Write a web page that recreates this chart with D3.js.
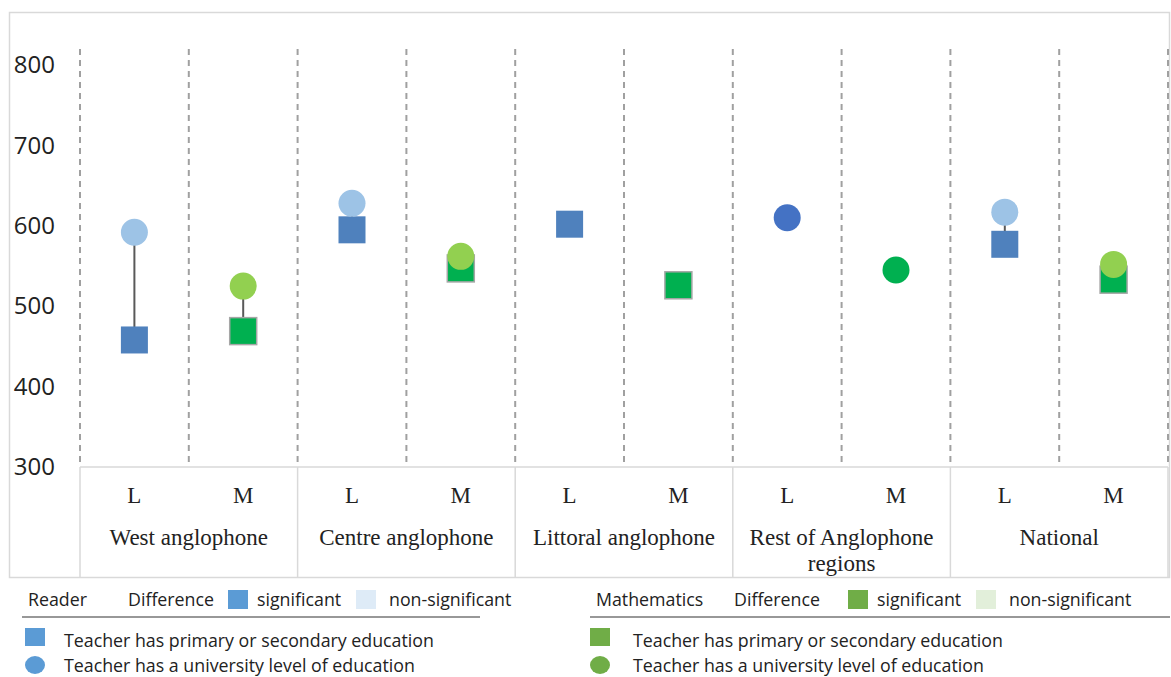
<!DOCTYPE html>
<html>
<head>
<meta charset="utf-8">
<script src="https://cdn.jsdelivr.net/npm/d3@7"></script>
<style>
  body { margin: 0; background: #fff; }
  svg { display: block; }
  .sans { font-family: "Open Sans", sans-serif; }
  .serif { font-family: "Liberation Serif", "Times New Roman", serif; }
</style>
</head>
<body>
<svg width="1171" height="677"></svg>
<script>
// regions and subjects
const regions = ["West anglophone", "Centre anglophone", "Littoral anglophone", "Rest of Anglophone regions", "National"];
const subjects = ["L", "M"];
const yTicks = [300, 400, 500, 600, 700, 800];

// scores per region (L then M); null = not shown
const primaryL = [458, 595, 602, null, 577];
const universityL = [592, 628, null, 610, 617];
const primaryM = [469, 547, 526, null, 533];
const universityM = [525, 562, null, 545, 552];
// circle colour when shown alone
const loneCircleL = "#4472C4";
const loneCircleM = "#00B050";

const svg = d3.select("svg");
const width = +svg.attr("width");
const height = +svg.attr("height");

const plot = { left: 80, right: 1168, top: 49, bottom: 467 };
const tableBottom = 577;

// outer frame
svg.append("rect")
  .attr("x", 9.5).attr("y", 12.5)
  .attr("width", 1160).attr("height", tableBottom - 12)
  .attr("fill", "none")
  .attr("stroke", "#d9d9d9").attr("stroke-width", 1.5);

const x0 = d3.scaleBand().domain(regions).range([plot.left, plot.right]);
const x1 = d3.scaleBand().domain(subjects).range([0, x0.bandwidth()]);
const y = d3.scaleLinear().domain([300, 800]).range([467, 65]);

// y axis labels
const yAxis = d3.axisLeft(y).tickValues(yTicks).tickSize(0).tickPadding(0);
const yAxisG = svg.append("g")
  .attr("transform", "translate(55,0)")
  .call(yAxis);
yAxisG.select(".domain").remove();
yAxisG.selectAll("text")
  .attr("class", "sans")
  .style("font-size", "24px")
  .attr("fill", "#222");

// dashed verticals
const dashX = [];
regions.forEach(r => {
  dashX.push(x0(r));
  dashX.push(x0(r) + x1.bandwidth());
});
dashX.push(plot.right);
svg.append("g").selectAll("line")
  .data(dashX)
  .join("line")
    .attr("x1", d => d).attr("x2", d => d)
    .attr("y1", plot.top).attr("y2", plot.bottom)
    .attr("stroke", "#a0a0a0")
    .attr("stroke-width", 2)
    .attr("stroke-dasharray", "6,5");

// category table
const table = svg.append("g");
table.append("line")
  .attr("x1", plot.left).attr("x2", plot.right)
  .attr("y1", plot.bottom).attr("y2", plot.bottom)
  .attr("stroke", "#d9d9d9").attr("stroke-width", 1.5);
table.selectAll(".vline")
  .data(regions.map(r => x0(r)).concat([plot.right]))
  .join("line")
    .attr("class", "vline")
    .attr("x1", d => d).attr("x2", d => d)
    .attr("y1", plot.bottom).attr("y2", tableBottom)
    .attr("stroke", "#d9d9d9").attr("stroke-width", 1.5);

regions.forEach(r => {
  subjects.forEach(s => {
    table.append("text")
      .attr("class", "serif")
      .attr("x", x0(r) + x1(s) + x1.bandwidth() / 2)
      .attr("y", 503)
      .attr("text-anchor", "middle")
      .style("font-size", "23px")
      .attr("fill", "#222")
      .text(s);
  });
  const lines = r === "Rest of Anglophone regions" ? ["Rest of Anglophone", "regions"] : [r];
  lines.forEach((t, i) => {
    table.append("text")
      .attr("class", "serif")
      .attr("x", x0(r) + x0.bandwidth() / 2)
      .attr("y", 545 + i * 26)
      .attr("text-anchor", "middle")
      .style("font-size", "23px")
      .attr("fill", "#222")
      .text(t);
  });
});

// marks
const rows = regions.map((r, i) => ({
  region: r,
  L: { sq: primaryL[i], ci: universityL[i] },
  M: { sq: primaryM[i], ci: universityM[i] }
}));

const sq = 27, rad = 13.5;
const marks = svg.append("g");
rows.forEach(d => {
  subjects.forEach(s => {
    const v = d[s];
    const cx = x0(d.region) + x1(s) + x1.bandwidth() / 2;
    if (v.sq != null && v.ci != null) {
      marks.append("line")
        .attr("x1", cx).attr("x2", cx)
        .attr("y1", y(v.ci)).attr("y2", y(v.sq))
        .attr("stroke", "#595959").attr("stroke-width", 2);
    }
    if (v.sq != null) {
      marks.append("rect")
        .attr("x", cx - sq / 2).attr("y", y(v.sq) - sq / 2)
        .attr("width", sq).attr("height", sq)
        .attr("fill", s === "L" ? "#4f81bd" : "#00b050")
        .attr("stroke", s === "L" ? "none" : "#a6a6a6")
        .attr("stroke-width", 1.5);
    }
    if (v.ci != null) {
      const alone = v.sq == null;
      marks.append("circle")
        .attr("cx", cx).attr("cy", y(v.ci))
        .attr("r", rad)
        .attr("fill", alone ? (s === "L" ? loneCircleL : loneCircleM) : (s === "L" ? "#9dc3e6" : "#92d050"));
    }
  });
});

// legends
const legends = [
  { x: 22, right: 480, title: "Reader", diffX: 128, sig: "#5b9bd5", non: "#deebf7", swX: 228, mark: "#5b9bd5", markX: 25, textX: 64 },
  { x: 590, right: 1170, title: "Mathematics", diffX: 734, sig: "#70ad47", non: "#e2efda", swX: 848, mark: "#70ad47", markX: 590, textX: 633 }
];
legends.forEach(l => {
  const g = svg.append("g").attr("class", "sans").style("font-size", "17.8px").attr("fill", "#222");
  g.append("text").attr("x", l.x + 6).attr("y", 606).text(l.title);
  g.append("text").attr("x", l.diffX).attr("y", 606).text("Difference");
  g.append("rect").attr("x", l.swX).attr("y", 590).attr("width", 20).attr("height", 19).attr("fill", l.sig);
  g.append("text").attr("x", l.swX + 29).attr("y", 606).text("significant");
  g.append("rect").attr("x", l.swX + 128).attr("y", 590).attr("width", 20).attr("height", 19).attr("fill", l.non);
  g.append("text").attr("x", l.swX + 161).attr("y", 606).text("non-significant");
  g.append("line")
    .attr("x1", l.x).attr("x2", l.right)
    .attr("y1", 617).attr("y2", 617)
    .attr("stroke", "#333").attr("stroke-width", 1.2);
  g.append("rect").attr("x", l.markX).attr("y", 628).attr("width", 20).attr("height", 18).attr("fill", l.mark);
  g.append("text").attr("x", l.textX).attr("y", 647).text("Teacher has primary or secondary education");
  g.append("ellipse").attr("cx", l.markX + 10).attr("cy", 665).attr("rx", 10).attr("ry", 9).attr("fill", l.mark);
  g.append("text").attr("x", l.textX).attr("y", 672).text("Teacher has a university level of education");
});
</script>
</body>
</html>
